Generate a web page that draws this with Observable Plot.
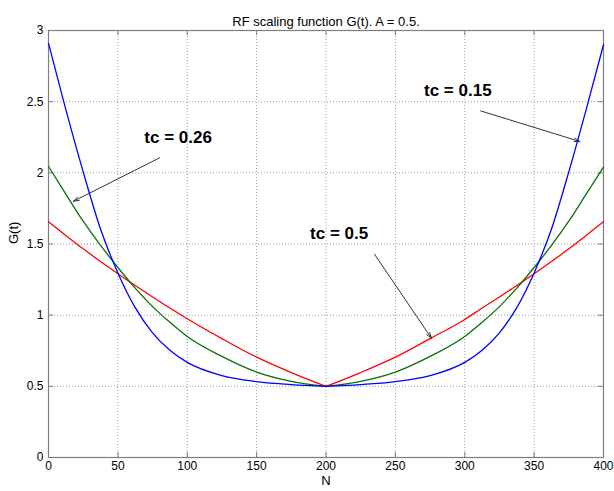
<!DOCTYPE html>
<html><head><meta charset="utf-8">
<script src="https://cdn.jsdelivr.net/npm/d3@7"></script>
<script src="https://cdn.jsdelivr.net/npm/@observablehq/plot@0.6"></script>
<style>body{margin:0;background:#fff;}</style>
</head><body><div id="chart"></div>
<script>
// Data
const N = [0,12.5,25,37.5,50,62.5,75,87.5,100,125,150,175,200,225,250,275,300,312.5,325,337.5,350,362.5,375,387.5,400];
const gBlue  = [2.91,2.444,2.007,1.605,1.297,1.053,0.876,0.753,0.668,0.575,0.533,0.512,0.50,0.512,0.533,0.575,0.668,0.753,0.876,1.053,1.297,1.605,2.007,2.444,2.90];
const gGreen = [2.045,1.85,1.66,1.49,1.335,1.19,1.06,0.95,0.85,0.71,0.60,0.535,0.50,0.535,0.60,0.71,0.85,0.95,1.06,1.19,1.335,1.49,1.66,1.85,2.04];
const gRed   = [1.657,1.56,1.466,1.377,1.291,1.208,1.128,1.05,0.975,0.835,0.705,0.597,0.50,0.597,0.705,0.835,0.97,1.05,1.128,1.208,1.291,1.377,1.466,1.56,1.657];

const xTicks = [0,50,100,150,200,250,300,350,400];
const yTicks = [0,0.5,1,1.5,2,2.5,3];

const labelText = ["tc = 0.26","tc = 0.15","tc = 0.5"];
const labelN = [93.4,295,209.5];
const labelG = [2.249,2.575,1.576];
const arrowN1 = [80,311.5,235];
const arrowG1 = [2.105,2.435,1.428];
const arrowN2 = [17.9,383,276];
const arrowG2 = [1.80,2.22,0.838];

const titleText = "RF scaling function G(t). A = 0.5.";
const xLabel = "N";
const yLabel = "G(t)";

const W = 614, H = 491, mL = 48, mR = 11, mT = 30, mB = 34;
const fw = W - mL - mR, fh = H - mT - mB;
const idx = d3.range(N.length);
const iMid = N.indexOf(200);
const leftIdx = idx.filter(i => i <= iMid);
const rightIdx = idx.filter(i => i >= iMid);
const ann = d3.range(labelText.length);
const tickCol = "#7f7f7f";

function curveMarks(vals, color) {
  return [leftIdx, rightIdx].map(part =>
    Plot.line(part, {x: i => N[i], y: i => vals[i], stroke: color, strokeWidth: 1.3, curve: "monotone-x"}));
}

const chart = Plot.plot({
  width: W, height: H,
  marginLeft: mL, marginRight: mR, marginTop: mT, marginBottom: mB,
  style: {fontFamily: "'Liberation Sans', Arial, sans-serif", fontSize: "12px", background: "#fff", color: "#000"},
  x: {domain: [0,400]},
  y: {domain: [0,3]},
  marks: [
    Plot.gridX(xTicks, {stroke: "#9a9a9a", strokeOpacity: 1, strokeDasharray: "1,2"}),
    Plot.gridY(yTicks, {stroke: "#9a9a9a", strokeOpacity: 1, strokeDasharray: "1,2"}),
    Plot.ruleX(xTicks, {stroke: tickCol, insetTop: fh - 5}),
    Plot.ruleX(xTicks, {stroke: tickCol, insetBottom: fh - 5}),
    Plot.ruleY(yTicks, {stroke: tickCol, insetRight: fw - 5}),
    Plot.ruleY(yTicks, {stroke: tickCol, insetLeft: fw - 5}),
    Plot.frame({stroke: tickCol, strokeWidth: 1.2}),
    Plot.axisX(xTicks, {tickSize: 0, tickPadding: 4, fontSize: 12, label: null}),
    Plot.axisY(yTicks, {tickSize: 0, tickPadding: 5, fontSize: 12, label: null, tickFormat: d => String(d)}),
    ...curveMarks(gRed, "#ff0000"),
    ...curveMarks(gGreen, "#0a6f0a"),
    ...curveMarks(gBlue, "#0000ff"),
    Plot.arrow(ann, {x1: i => arrowN1[i], y1: i => arrowG1[i], x2: i => arrowN2[i], y2: i => arrowG2[i], stroke: "#333", strokeWidth: 1, headLength: 9, headAngle: 35}),
    Plot.text(ann, {x: i => labelN[i], y: i => labelG[i], text: i => labelText[i], fontSize: 17, fontWeight: "bold", fill: "#000"}),
    Plot.text([titleText], {frameAnchor: "top", dy: -14, fontSize: 13, fill: "#000"}),
    Plot.text([xLabel], {frameAnchor: "bottom", dy: 27, fontSize: 13, fill: "#000"}),
    Plot.text([yLabel], {frameAnchor: "left", dx: -35, rotate: -90, fontSize: 13, fill: "#000"})
  ]
});
document.getElementById("chart").appendChild(chart);
</script>
</body></html>
